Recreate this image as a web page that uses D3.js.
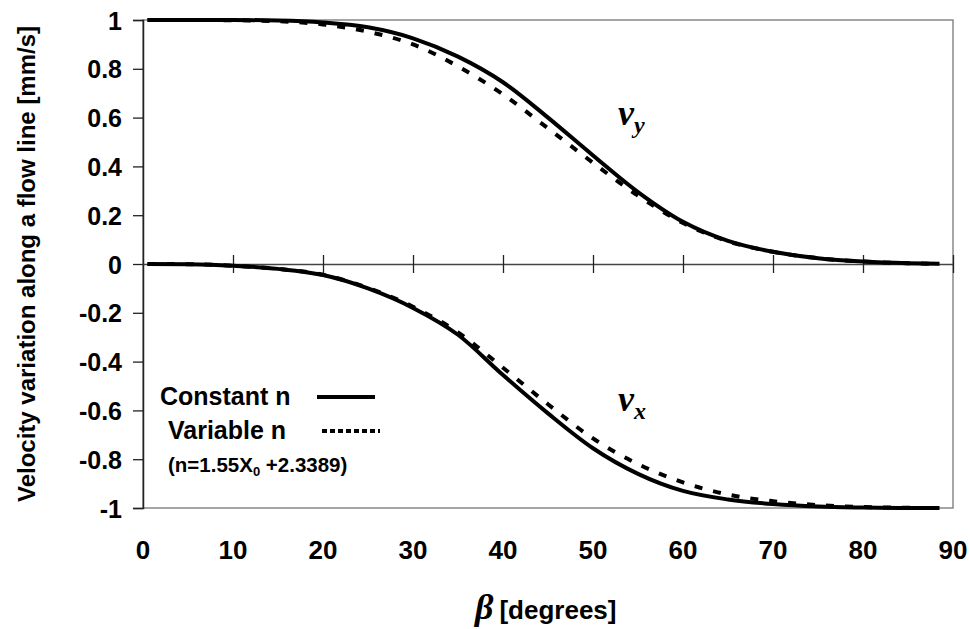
<!DOCTYPE html>
<html>
<head>
<meta charset="utf-8">
<script src="https://cdn.jsdelivr.net/npm/d3@7"></script>
<style>
  body { margin: 0; background: #fff; }
  text { font-family: "Liberation Sans", Arial, sans-serif; font-weight: bold; fill: #000; }
  .greek { font-family: "Liberation Serif", "Times New Roman", serif; font-style: italic; font-weight: bold; }
</style>
</head>
<body>
<div id="chart"></div>
<script>
// data (beta in degrees, velocity in mm/s)
const betas   = [0.5, 5, 10, 15, 20, 25, 30, 35, 40, 45, 50, 55, 60, 65, 70, 75, 80, 85, 88.5]
const vyConst = [1, 1, 1, 0.998, 0.99, 0.97, 0.925, 0.85, 0.745, 0.6, 0.445, 0.295, 0.173, 0.095, 0.05, 0.024, 0.01, 0.003, 0.001]
const vyVar   = [1, 1, 0.999, 0.995, 0.982, 0.952, 0.9, 0.81, 0.695, 0.556, 0.415, 0.28, 0.168, 0.093, 0.05, 0.024, 0.01, 0.003, 0.001]
const vxConst = [0, -0.001, -0.007, -0.02, -0.045, -0.1, -0.18, -0.29, -0.455, -0.612, -0.755, -0.86, -0.93, -0.965, -0.984, -0.994, -0.998, -1, -1]
const vxVar   = [0, -0.001, -0.007, -0.02, -0.044, -0.098, -0.175, -0.28, -0.425, -0.575, -0.715, -0.82, -0.895, -0.945, -0.972, -0.988, -0.996, -0.999, -1]

const xTicks = [0, 10, 20, 30, 40, 50, 60, 70, 80, 90]
const yTicks = [1, 0.8, 0.6, 0.4, 0.2, 0, -0.2, -0.4, -0.6, -0.8, -1]

const width = 970, height = 629
const plotL = 143, plotR = 953, plotT = 20, plotB = 508

const svg = d3.select('#chart').append('svg')
    .attr('width', width)
    .attr('height', height)

const x = d3.scaleLinear().domain([0, 90]).range([plotL, plotR])
const y = d3.scaleLinear().domain([-1, 1]).range([plotB, plotT])

// plot frame
svg.append('rect')
    .attr('x', plotL).attr('y', plotT)
    .attr('width', plotR - plotL).attr('height', plotB - plotT)
    .attr('fill', 'none').attr('stroke', '#888').attr('stroke-width', 1.5)

// y axis with outside ticks (plain hyphen minus like the original)
const yAxis = svg.append('g')
    .attr('transform', `translate(${plotL},0)`)
    .call(d3.axisLeft(y).tickValues(yTicks).tickSize(10).tickPadding(11)
        .tickFormat(d => String(d)))
yAxis.select('.domain').attr('stroke', '#222').attr('stroke-width', 1.5)
yAxis.selectAll('.tick line').attr('stroke', '#222').attr('stroke-width', 1.3)
yAxis.selectAll('text').style('font-size', '25px').attr('dy', '0.36em')

// x axis on the zero line, ticks crossing
const xAxis = svg.append('g')
    .attr('transform', `translate(0,${y(0)})`)
    .call(d3.axisBottom(x).tickValues(xTicks.slice(1)).tickSizeInner(9).tickSizeOuter(0).tickFormat(''))
xAxis.select('.domain').attr('stroke', '#444').attr('stroke-width', 1.5)
xAxis.selectAll('.tick line').attr('y1', -9).attr('stroke', '#222').attr('stroke-width', 1.3)

// x tick labels below the plot
svg.append('g').selectAll('text')
    .data(xTicks)
    .join('text')
        .attr('x', d => x(d))
        .attr('y', 559)
        .attr('text-anchor', 'middle')
        .style('font-size', '26px')
        .text(d => d)

const line = (vals) => d3.line()
    .x((d, i) => x(betas[i]))
    .y(d => y(d))
    .curve(d3.curveMonotoneX)(vals)

const curves = svg.append('g').attr('fill', 'none').attr('stroke', '#000')
curves.append('path').attr('d', line(vyVar)).attr('stroke-width', 4).attr('stroke-dasharray', '8,11')
curves.append('path').attr('d', line(vxVar)).attr('stroke-width', 4).attr('stroke-dasharray', '8,11')
curves.append('path').attr('d', line(vyConst)).attr('stroke-width', 4)
curves.append('path').attr('d', line(vxConst)).attr('stroke-width', 4)

// curve labels
const vy = svg.append('text').attr('class', 'greek').attr('x', 618).attr('y', 125).style('font-size', '36px')
vy.append('tspan').text('v')
vy.append('tspan').attr('dy', 8).style('font-size', '24px').text('y')
const vx = svg.append('text').attr('class', 'greek').attr('x', 618).attr('y', 411).style('font-size', '36px')
vx.append('tspan').text('v')
vx.append('tspan').attr('dy', 8).style('font-size', '24px').text('x')

// legend
svg.append('text').attr('x', 160).attr('y', 405).style('font-size', '25px').text('Constant n')
svg.append('line').attr('x1', 317).attr('x2', 375).attr('y1', 397).attr('y2', 397)
    .attr('stroke', '#000').attr('stroke-width', 4)
svg.append('text').attr('x', 168).attr('y', 439).style('font-size', '25px').text('Variable n')
svg.append('line').attr('x1', 322).attr('x2', 380).attr('y1', 431).attr('y2', 431)
    .attr('stroke', '#000').attr('stroke-width', 4).attr('stroke-dasharray', '5,3')
const formula = svg.append('text').attr('x', 168).attr('y', 472).style('font-size', '20.5px')
formula.append('tspan').text('(n=1.55X')
formula.append('tspan').attr('dy', 4).style('font-size', '13px').text('0')
formula.append('tspan').attr('dy', -4).text(' +2.3389)')

// axis titles
svg.append('text')
    .attr('transform', `translate(35,${(plotT + plotB) / 2}) rotate(-90)`)
    .attr('text-anchor', 'middle')
    .style('font-size', '24px')
    .text('Velocity variation along a flow line [mm/s]')

const xt = svg.append('text').attr('x', 475).attr('y', 619)
xt.append('tspan').attr('class', 'greek').style('font-size', '36px').text('β')
xt.append('tspan').attr('dx', 6).style('font-size', '26px').text('[degrees]')
</script>
</body>
</html>
